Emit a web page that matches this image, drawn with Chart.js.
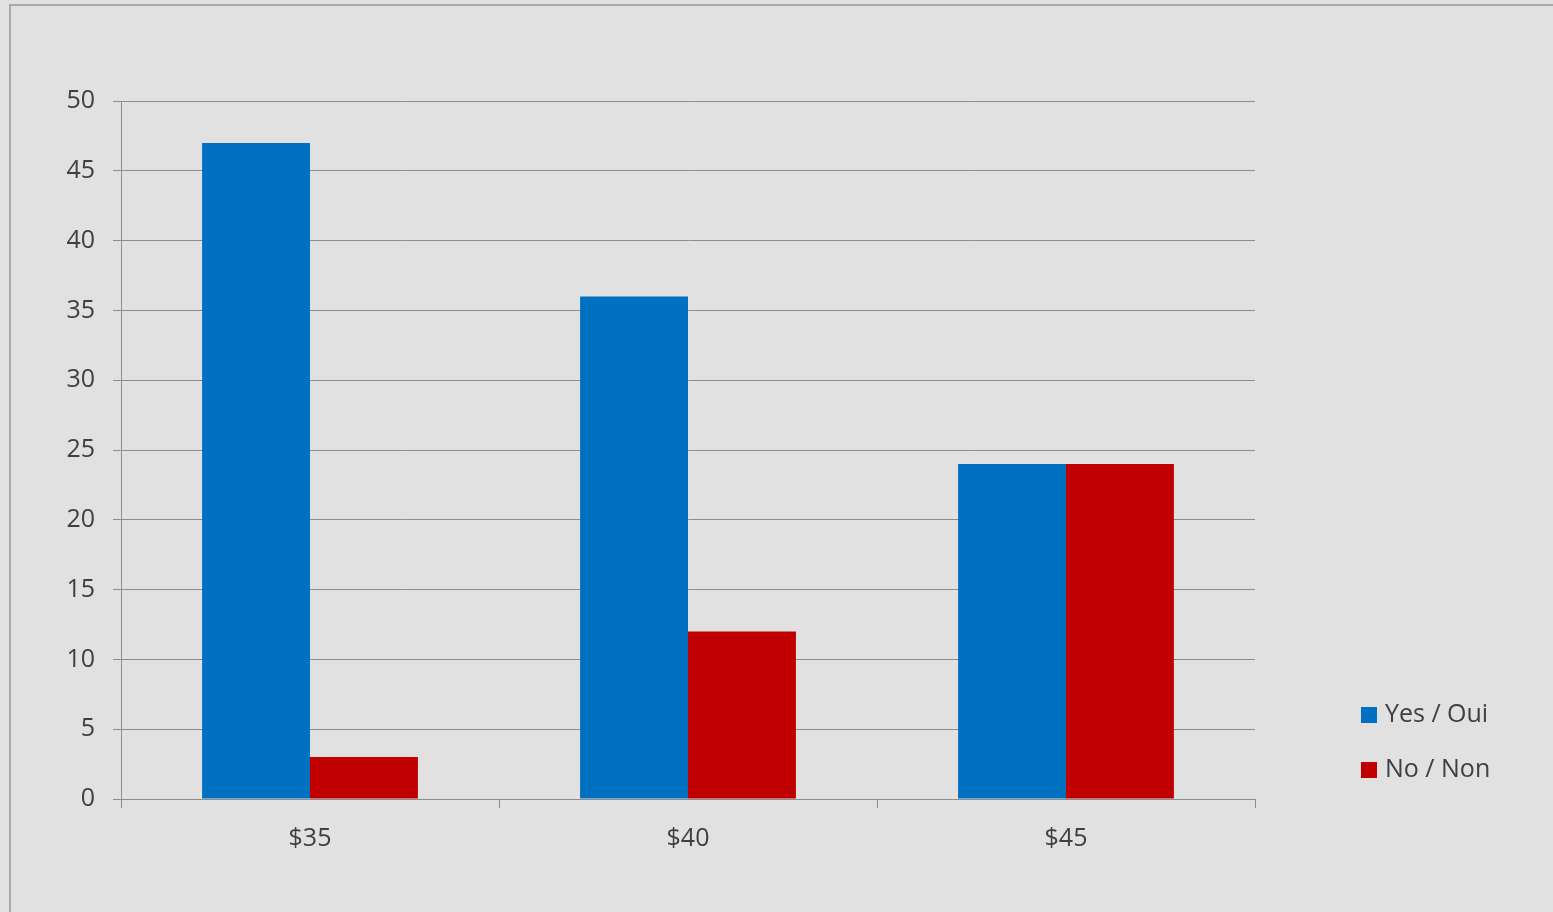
<!DOCTYPE html>
<html>
<head>
<meta charset="utf-8">
<script src="https://cdn.jsdelivr.net/npm/chart.js@4/dist/chart.umd.min.js"></script>
<style>
    html, body { margin: 0; padding: 0; }
    body { width: 1553px; height: 912px; background: #e1e1e1; overflow: hidden; position: relative; font-family: "Open Sans", sans-serif; }
    #frame { position: absolute; left: 9px; top: 4px; right: -4px; bottom: -4px; border-left: 2px solid #a9a9a9; border-top: 2px solid #a9a9a9; }
    #wrap { position: absolute; left: 0; top: 0; width: 1553px; height: 912px; }
    .legend-item { position: absolute; left: 1361px; height: 30px; line-height: 30px; font-size: 25px; color: #404040; white-space: nowrap; }
    .legend-item span.box { display: inline-block; width: 16px; height: 16px; margin-right: 8px; vertical-align: -1px; }
</style>
</head>
<body>
<div id="frame"></div>
<div id="wrap"><canvas id="priceChart" width="1553" height="912"></canvas></div>
<div id="legend"></div>
<script>
// chart values
const categories = ['$35', '$40', '$45'];
const yesValues = [47, 36, 24];
const noValues = [3, 12, 24];
const seriesNames = ['Yes / Oui', 'No / Non'];
const seriesColors = ['#0070c0', '#c00000'];

const textColor = '#404040';
const gridColor = '#8e8e8e';

const ctx = document.getElementById('priceChart').getContext('2d');
const myChart = new Chart(ctx, {
    type: 'bar',
    data: {
        labels: categories,
        datasets: [{
                label: seriesNames[0],
                data: yesValues,
                backgroundColor: seriesColors[0],
                borderWidth: 0
            },
            {
                label: seriesNames[1],
                data: noValues,
                backgroundColor: seriesColors[1],
                borderWidth: 0
            }
        ]
    },
    options: {
        responsive: false,
        animation: false,
        layout: {
            padding: { top: 101, right: 298, bottom: 0, left: 0 }
        },
        datasets: {
            bar: { categoryPercentage: 0.571, barPercentage: 1.0 }
        },
        plugins: {
            legend: { display: false },
            tooltip: { enabled: false }
        },
        scales: {
            y: {
                min: 0,
                max: 50,
                ticks: {
                    stepSize: 5,
                    color: textColor,
                    padding: 18,
                    font: { family: 'Open Sans', size: 25 }
                },
                grid: {
                    color: gridColor,
                    lineWidth: 1,
                    tickLength: 8
                },
                border: { color: gridColor, width: 1 },
                afterFit: function (scale) {
                    scale.width = 121;
                }
            },
            x: {
                ticks: {
                    color: textColor,
                    padding: 16,
                    font: { family: 'Open Sans', size: 25 }
                },
                grid: {
                    display: true,
                    offset: true,
                    drawOnChartArea: false,
                    color: gridColor,
                    tickLength: 9
                },
                border: { color: gridColor, width: 1 },
                afterFit: function (scale) {
                    scale.height = 113;
                }
            }
        }
    }
});

// legend as html text, colours taken from the datasets
const legendEl = document.getElementById('legend');
const legendTops = [697, 752];
myChart.data.datasets.forEach(function (ds, i) {
    const item = document.createElement('div');
    item.className = 'legend-item';
    item.style.top = legendTops[i] + 'px';
    item.innerHTML = '<span class="box" style="background:' + ds.backgroundColor + '"></span>' + ds.label;
    legendEl.appendChild(item);
});
</script>
</body>
</html>
